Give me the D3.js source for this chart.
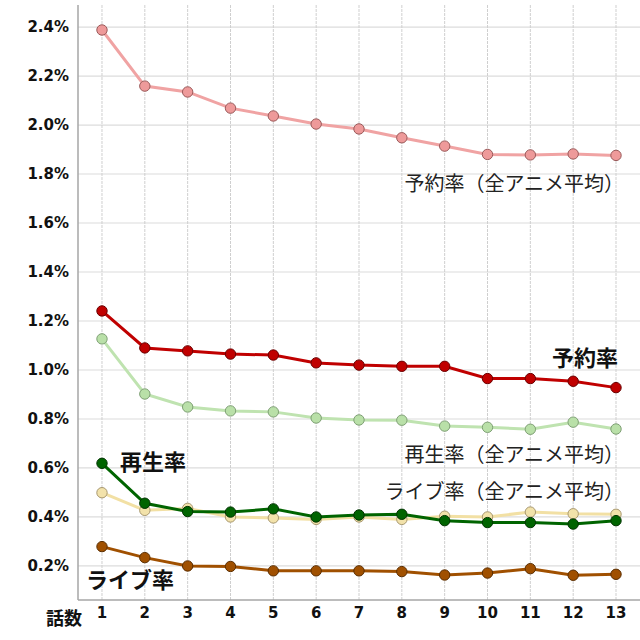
<!DOCTYPE html>
<html>
<head>
<meta charset="utf-8">
<script src="https://cdn.jsdelivr.net/npm/d3@7"></script>
<style>
  body { margin: 0; background: #fff; }
  svg text { font-family: "DejaVu Sans", Verdana, sans-serif; }
  .jp { font-family: "Noto Sans CJK JP", sans-serif; }
</style>
</head>
<body>
<div id="chart"></div>
<script>
// episodes
var episodes = [1, 2, 3, 4, 5, 6, 7, 8, 9, 10, 11, 12, 13];

// series values (%)
var reserveAvg = [2.388, 2.159, 2.135, 2.069, 2.037, 2.004, 1.984, 1.948, 1.914, 1.880, 1.878, 1.882, 1.876];
var reserve    = [1.241, 1.090, 1.078, 1.065, 1.061, 1.029, 1.020, 1.015, 1.015, 0.965, 0.965, 0.954, 0.928];
var playAvg    = [1.127, 0.902, 0.849, 0.833, 0.829, 0.804, 0.796, 0.795, 0.771, 0.766, 0.758, 0.787, 0.759];
var play       = [0.619, 0.456, 0.422, 0.420, 0.433, 0.400, 0.408, 0.411, 0.385, 0.377, 0.377, 0.371, 0.385];
var liveAvg    = [0.499, 0.427, 0.435, 0.400, 0.396, 0.390, 0.400, 0.390, 0.403, 0.400, 0.420, 0.413, 0.411];
var live       = [0.279, 0.234, 0.200, 0.198, 0.180, 0.180, 0.180, 0.177, 0.163, 0.171, 0.189, 0.162, 0.166];

var yTicks = [0.2, 0.4, 0.6, 0.8, 1.0, 1.2, 1.4, 1.6, 1.8, 2.0, 2.2, 2.4];

var width = 640, height = 640;
var plot = { left: 78, right: 640, top: 5, bottom: 600 };

var svg = d3.select("#chart").append("svg")
    .attr("width", width)
    .attr("height", height);

var x = d3.scaleLinear().domain([0.44, 13.56]).range([plot.left, plot.right]);
var y = d3.scaleLinear().domain([0.061, 2.49]).range([plot.bottom, plot.top]);

// grid
svg.append("g").selectAll("line")
  .data(yTicks).enter().append("line")
    .attr("x1", plot.left).attr("x2", plot.right)
    .attr("y1", function(d) { return y(d); })
    .attr("y2", function(d) { return y(d); })
    .style("stroke", "#dcdcdc").style("stroke-width", 1.2);

svg.append("g").selectAll("line")
  .data(episodes).enter().append("line")
    .attr("y1", plot.top).attr("y2", plot.bottom)
    .attr("x1", function(d) { return x(d); })
    .attr("x2", function(d) { return x(d); })
    .style("stroke", "#cfcfcf").style("stroke-width", 1)
    .style("stroke-dasharray", "3,1");

// axis lines
svg.append("line").attr("x1", plot.left).attr("x2", plot.left).attr("y1", plot.top).attr("y2", plot.bottom)
    .style("stroke", "#a6a6a6").style("stroke-width", 1.5);
svg.append("line").attr("x1", plot.left).attr("x2", plot.right).attr("y1", plot.bottom).attr("y2", plot.bottom)
    .style("stroke", "#a6a6a6").style("stroke-width", 1.5);

// tick labels
svg.append("g").selectAll("text")
  .data(yTicks).enter().append("text")
    .attr("x", 69)
    .attr("y", function(d) { return y(d); })
    .attr("dy", "0.36em")
    .attr("text-anchor", "end")
    .style("font-size", "15px").style("font-weight", "bold").style("fill", "#111")
    .text(function(d) { return d.toFixed(1) + "%"; });

svg.append("g").selectAll("text")
  .data(episodes).enter().append("text")
    .attr("x", function(d) { return x(d); })
    .attr("y", 618)
    .attr("text-anchor", "middle")
    .style("font-size", "15px").style("font-weight", "bold").style("fill", "#111")
    .text(function(d) { return d; });

svg.append("text").attr("class", "jp")
    .attr("x", 46).attr("y", 625)
    .style("font-size", "18px").style("font-weight", "bold").style("fill", "#111")
    .text("話数");

// series
var series = [
  { values: reserveAvg, line: "#f0a3a3", fill: "#ee9a9a", stroke: "#9a5a5a" },
  { values: playAvg,    line: "#bfe3b0", fill: "#b9e0a8", stroke: "#7fa075" },
  { values: liveAvg,    line: "#f2e0a4", fill: "#f2e2aa", stroke: "#a89870" },
  { values: reserve,    line: "#c00000", fill: "#c00000", stroke: "#6a0000" },
  { values: live,       line: "#a05000", fill: "#a05000", stroke: "#5a2d00" },
  { values: play,       line: "#006400", fill: "#006400", stroke: "#003300" }
];

var line = d3.line()
    .x(function(d, i) { return x(episodes[i]); })
    .y(function(d) { return y(d); });

series.forEach(function(s) {
  svg.append("path")
    .datum(s.values)
    .attr("d", line)
    .style("fill", "none")
    .style("stroke", s.line)
    .style("stroke-width", 3);
  svg.append("g").selectAll("circle")
    .data(s.values).enter().append("circle")
      .attr("cx", function(d, i) { return x(episodes[i]); })
      .attr("cy", function(d) { return y(d); })
      .attr("r", 5.2)
      .style("fill", s.fill)
      .style("stroke", s.stroke)
      .style("stroke-width", 1);
});

// labels
var labels = [
  { text: "予約率（全アニメ平均）", x: 624, y: 191, anchor: "end", bold: false, size: 20 },
  { text: "再生率（全アニメ平均）", x: 624, y: 462, anchor: "end", bold: false, size: 20 },
  { text: "ライブ率（全アニメ平均）", x: 624, y: 499, anchor: "end", bold: false, size: 20 },
  { text: "予約率", x: 618, y: 366, anchor: "end", bold: true, size: 22 },
  { text: "再生率", x: 120, y: 470, anchor: "start", bold: true, size: 22 },
  { text: "ライブ率", x: 86, y: 588, anchor: "start", bold: true, size: 22 }
];

svg.append("g").selectAll("text")
  .data(labels).enter().append("text")
    .attr("class", "jp")
    .attr("x", function(d) { return d.x; })
    .attr("y", function(d) { return d.y; })
    .attr("text-anchor", function(d) { return d.anchor; })
    .style("font-size", function(d) { return d.size + "px"; })
    .style("font-weight", function(d) { return d.bold ? "bold" : "normal"; })
    .style("fill", function(d) { return d.bold ? "#111" : "#222"; })
    .text(function(d) { return d.text; });
</script>
</body>
</html>
